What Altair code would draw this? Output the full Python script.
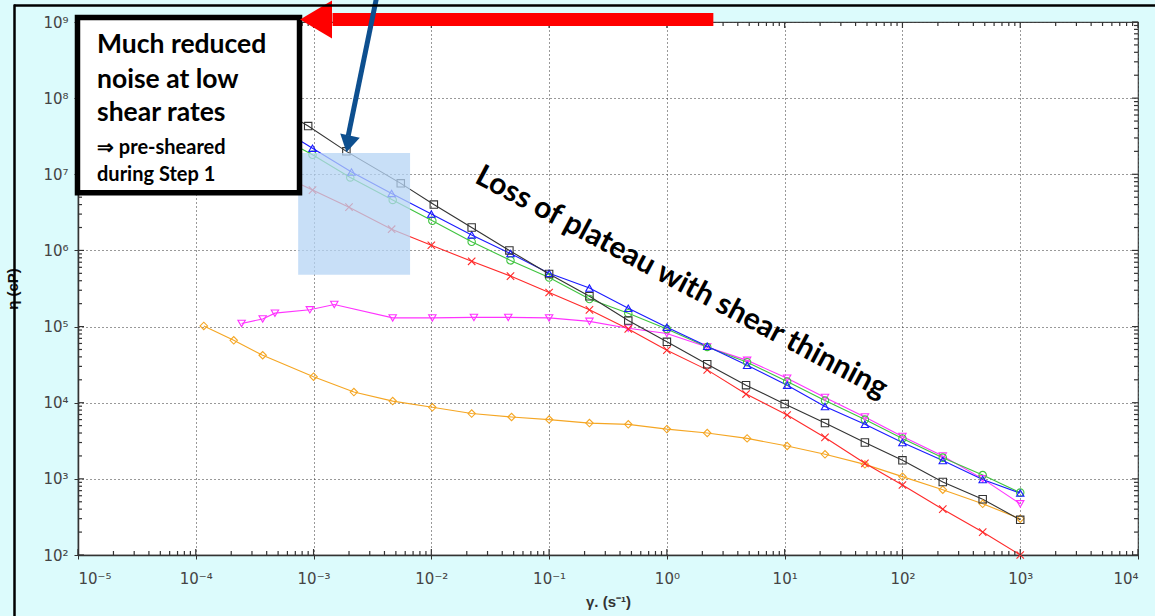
import json
import altair as alt
import pandas as pd

# ---------------- data ----------------
black_x = [9.3e-5, 4.4e-4, 9e-4, 1.9e-3, 5.5e-3, 1.05e-2, 2.2e-2, 4.6e-2, 0.1, 0.22, 0.47, 1.0, 2.2, 4.7, 10, 22, 48, 100, 220, 480, 1000]
black_y = [3.7e8, 8.3e7, 4.3e7, 2.0e7, 7.6e6, 4.0e6, 2.0e6, 1.0e6, 4.9e5, 2.5e5, 1.2e5, 6.3e4, 3.2e4, 1.7e4, 9.6e3, 5.4e3, 3.0e3, 1.75e3, 9.1e2, 5.4e2, 2.9e2]

blue_x = [1e-4, 2.15e-4, 4.6e-4, 9.8e-4, 2.1e-3, 4.6e-3, 1e-2, 2.2e-2, 4.7e-2, 0.1, 0.22, 0.47, 1, 2.2, 4.8, 10.5, 22, 48, 100, 220, 480, 1000]
blue_y = [1.8e8, 8.7e7, 4.5e7, 2.2e7, 1.07e7, 5.6e6, 3.0e6, 1.6e6, 9.1e5, 5.0e5, 3.2e5, 1.74e5, 9.8e4, 5.5e4, 3.1e4, 1.7e4, 8.9e3, 5.2e3, 3.0e3, 1.74e3, 9.8e2, 6.5e2]

green_x = [1.35e-4, 2.45e-4, 4.4e-4, 9.8e-4, 2.05e-3, 4.7e-3, 1.02e-2, 2.2e-2, 4.7e-2, 0.1, 0.22, 0.47, 1, 2.2, 4.8, 10.5, 22, 48, 100, 220, 480, 1000]
green_y = [1.0e8, 6.0e7, 3.5e7, 1.8e7, 9.1e6, 4.6e6, 2.45e6, 1.3e6, 7.4e5, 4.4e5, 2.3e5, 1.5e5, 9.3e4, 5.4e4, 3.4e4, 1.9e4, 1.07e4, 6.0e3, 3.4e3, 1.9e3, 1.12e3, 6.6e2]

red_x = [1.07e-4, 2.5e-4, 4e-4, 9.8e-4, 2e-3, 4.6e-3, 1e-2, 2.2e-2, 4.7e-2, 0.1, 0.22, 0.47, 1, 2.2, 4.7, 10.5, 22, 48, 100, 220, 480, 1000]
red_y = [3.8e7, 1.74e7, 1.2e7, 6.2e6, 3.7e6, 1.9e6, 1.17e6, 7.2e5, 4.6e5, 2.8e5, 1.66e5, 9.3e4, 4.9e4, 2.7e4, 1.3e4, 6.9e3, 3.5e3, 1.6e3, 8.3e2, 4.0e2, 2.0e2, 1.0e2]

magenta_x = [2.45e-4, 3.7e-4, 4.7e-4, 9.3e-4, 1.5e-3, 4.7e-3, 1.02e-2, 2.3e-2, 4.5e-2, 0.1, 0.22, 0.47, 1, 2.2, 4.8, 10.5, 22, 48, 100, 220, 480, 1000]
magenta_y = [1.1e5, 1.26e5, 1.5e5, 1.66e5, 1.95e5, 1.3e5, 1.3e5, 1.32e5, 1.32e5, 1.3e5, 1.17e5, 9.5e4, 8.1e4, 5.4e4, 3.6e4, 2.1e4, 1.17e4, 6.5e3, 3.6e3, 2.0e3, 1.0e3, 4.7e2]

orange_x = [1.17e-4, 2.1e-4, 3.7e-4, 1e-3, 2.2e-3, 4.7e-3, 1.02e-2, 2.2e-2, 4.8e-2, 0.1, 0.22, 0.47, 1, 2.2, 4.8, 10.5, 22, 48, 100, 220, 480, 1000]
orange_y = [1.02e5, 6.6e4, 4.2e4, 2.2e4, 1.38e4, 1.05e4, 8.7e3, 7.2e3, 6.5e3, 6.0e3, 5.4e3, 5.2e3, 4.5e3, 4.0e3, 3.4e3, 2.7e3, 2.1e3, 1.55e3, 1.07e3, 7.2e2, 4.7e2, 3.0e2]

series_names = ["orange", "magenta", "red", "green", "blue", "black"]
series_colors = ["#f5a623", "#ff33ff", "#ff2a2a", "#3fc43f", "#1a1aff", "#333333"]
CROSS = "M -1 -1 L 1 1 M -1 1 L 1 -1"
series_shapes = ["diamond", "triangle-down", CROSS, "circle", "triangle-up", "square"]

x_tick_values = [1e-5, 1e-4, 1e-3, 1e-2, 1e-1, 1e0, 1e1, 1e2, 1e3, 1e4]
x_tick_labels = ["10⁻⁵", "10⁻⁴", "10⁻³", "10⁻²", "10⁻¹", "10⁰", "10¹", "10²", "10³", "10⁴"]
y_tick_values = [1e2, 1e3, 1e4, 1e5, 1e6, 1e7, 1e8, 1e9]
y_tick_labels = ["10²", "10³", "10⁴", "10⁵", "10⁶", "10⁷", "10⁸", "10⁹"]

x_title = "γ. (s⁻¹)"
y_title = "η (cP)"

box_lines = ["Much reduced", "noise at low", "shear rates", "⇒ pre-sheared", "during Step 1"]
diag_text = "Loss of plateau with shear thinning"

# ---------------- build tables ----------------
xs_all = {"black": black_x, "blue": blue_x, "green": green_x, "red": red_x, "magenta": magenta_x, "orange": orange_x}
ys_all = {"black": black_y, "blue": blue_y, "green": green_y, "red": red_y, "magenta": magenta_y, "orange": orange_y}
rows = []
for s in series_names:
    for i, (xv, yv) in enumerate(zip(xs_all[s], ys_all[s])):
        rows.append({"series": s, "x": xv, "y": yv, "i": i})
df = pd.DataFrame(rows)

W, H = 1060, 533
xs = alt.Scale(type="log", domain=[1e-5, 1e4], nice=False)
ys = alt.Scale(type="log", domain=[1e2, 1e9], nice=False)
col = alt.Scale(domain=series_names, range=series_colors)
shp = alt.Scale(domain=series_names, range=series_shapes)

x_label_expr = json.dumps(x_tick_labels, ensure_ascii=False) + "[round(log(datum.value)/LN10)+5]"
y_label_expr = json.dumps(y_tick_labels, ensure_ascii=False) + "[round(log(datum.value)/LN10)-2]"

common = dict(grid=True, gridDash=[1, 3], gridColor="#333", gridOpacity=1, gridWidth=1,
              tickSize=4, tickColor="#333", domainColor="#333", domainWidth=1.5,
              labelColor="#444", labelFont="DejaVu Sans", labelFontSize=15,
              titleFont="Liberation Sans", titleFontSize=15, titleFontWeight="bold")
x_axis = alt.Axis(values=x_tick_values, labelExpr=x_label_expr, title=x_title,
                  labelPadding=12, titleColor="#333", titlePadding=8, **common)
y_axis = alt.Axis(values=y_tick_values, labelExpr=y_label_expr, title=y_title,
                  labelPadding=6, titleColor="#111", titleX=-58, **common)


def X(field):
    return alt.X(field, scale=xs, axis=x_axis)


def Y(field):
    return alt.Y(field, scale=ys, axis=y_axis)


lines = alt.Chart(df).mark_line(strokeWidth=1.1).encode(
    x=X("x:Q"), y=Y("y:Q"),
    color=alt.Color("series:N", scale=col, legend=None),
    detail="series:N",
    order="i:Q",
)
points = alt.Chart(df).mark_point(filled=False, size=55, strokeWidth=1.1, opacity=1).encode(
    x=X("x:Q"), y=Y("y:Q"),
    color=alt.Color("series:N", scale=col, legend=None),
    shape=alt.Shape("series:N", scale=shp, legend=None),
)

# minor / inward ticks
minor_x = [m * 10.0 ** d for d in range(-5, 4) for m in range(2, 10)]
minor_y = [m * 10.0 ** d for d in range(2, 9) for m in range(2, 10)]
dmx = pd.DataFrame({"x": minor_x})
dmy = pd.DataFrame({"y": minor_y})
dMx = pd.DataFrame({"x": x_tick_values})
dMy = pd.DataFrame({"y": y_tick_values})
tick_layers = []
for d, L in [(dmx, 4), (dMx, 6)]:
    tick_layers.append(alt.Chart(d).mark_rule(color="#333", strokeWidth=1.2).encode(
        x=X("x:Q"), y=alt.value(H), y2=alt.value(H - L)))
    tick_layers.append(alt.Chart(d).mark_rule(color="#333", strokeWidth=1.2).encode(
        x=X("x:Q"), y=alt.value(0), y2=alt.value(L)))
for d, L in [(dmy, 4), (dMy, 6)]:
    tick_layers.append(alt.Chart(d).mark_rule(color="#333", strokeWidth=1.2).encode(
        y=Y("y:Q"), x=alt.value(0), x2=alt.value(L)))
    tick_layers.append(alt.Chart(d).mark_rule(color="#333", strokeWidth=1.2).encode(
        y=Y("y:Q"), x=alt.value(W), x2=alt.value(W - L)))

# ---------------- annotations (in data coordinates) ----------------
shade = alt.Chart(pd.DataFrame({"x": [7.4e-4], "x2": [6.6e-3], "y": [4.8e5], "y2": [1.9e7]})).mark_rect(
    color="#b6d4f4", opacity=0.75).encode(x=X("x:Q"), x2="x2:Q", y=Y("y:Q"), y2="y2:Q")

box = alt.Chart(pd.DataFrame({"x": [9.9e-6], "x2": [7.6e-4], "y": [5.7e6], "y2": [1.15e9]})).mark_rect(
    fill="white", stroke="black", strokeWidth=5.5).encode(x=X("x:Q"), x2="x2:Q", y=Y("y:Q"), y2="y2:Q")

box_text_df = pd.DataFrame({
    "t": box_lines,
    "x": [1.45e-5] * 5,
    "y": [5.0e8, 1.73e8, 6.3e7, 2.2e7, 9.8e6],
    "s": [26.5, 26.5, 26.5, 20, 20],
})
box_text = alt.Chart(box_text_df).mark_text(align="left", baseline="middle", font="Lato",
                                            fontWeight="bold", color="black").encode(
    x=X("x:Q"), y=Y("y:Q"), text="t:N",
    size=alt.Size("s:Q", scale=None, legend=None),
)

diag = alt.Chart(pd.DataFrame({"t": [diag_text], "x": [1.33], "y": [3.8e5]})).mark_text(
    angle=28, font="Lato", fontWeight="bold", fontSize=30, color="black").encode(
    x=X("x:Q"), y=Y("y:Q"), text="t:N")

red_shaft = alt.Chart(pd.DataFrame({"x": [1.45e-3], "x2": [2.48], "y": [1.08e9]})).mark_rule(
    color="#ff0000", strokeWidth=13, strokeCap="butt").encode(x=X("x:Q"), x2="x2:Q", y=Y("y:Q"))
red_head = alt.Chart(pd.DataFrame({"x": [1.05e-3], "y": [1.08e9]})).mark_point(
    shape="M -0.84 0 L 0.84 -1 L 0.84 1 Z", filled=True, size=1444, color="#ff0000", opacity=1).encode(
    x=X("x:Q"), y=Y("y:Q"))

blue_shaft = alt.Chart(pd.DataFrame({"x": [3.47e-3], "x2": [1.97e-3], "y": [2.3e9], "y2": [3.2e7]})).mark_rule(
    color="#0d4f8f", strokeWidth=5, strokeCap="butt").encode(x=X("x:Q"), x2="x2:Q", y=Y("y:Q"), y2="y2:Q")
blue_head = alt.Chart(pd.DataFrame({"x": [1.97e-3], "y": [2.5e7]})).mark_point(
    shape="M -1 -0.85 L 1 -0.85 L 0 0.85 Z", filled=True, size=400, angle=12, color="#0d4f8f", opacity=1).encode(
    x=X("x:Q"), y=Y("y:Q"))

# slide frame lines (outside the plot)
frame_top = alt.Chart(pd.DataFrame({"a": [0]})).mark_rule(color="black", strokeWidth=2.5).encode(
    x=alt.value(-64), x2=alt.value(1100), y=alt.value(-16.5))
frame_left = alt.Chart(pd.DataFrame({"a": [0]})).mark_rule(color="black", strokeWidth=2.5).encode(
    x=alt.value(-63.5), y=alt.value(-17.5), y2=alt.value(620))

chart = alt.layer(
    lines, points, *tick_layers, shade, box, box_text, diag,
    red_shaft, red_head, blue_shaft, blue_head, frame_top, frame_left
).properties(
    width=W, height=H,
    autosize=alt.AutoSizeParams(type="none"),
    padding={"left": 78, "top": 22, "right": 17, "bottom": 61},
    background="#dcfbfc",
).configure_view(fill="white", stroke="#444", strokeWidth=1.2)

chart.save("out.html", embed_options={"renderer": "svg", "actions": False})
